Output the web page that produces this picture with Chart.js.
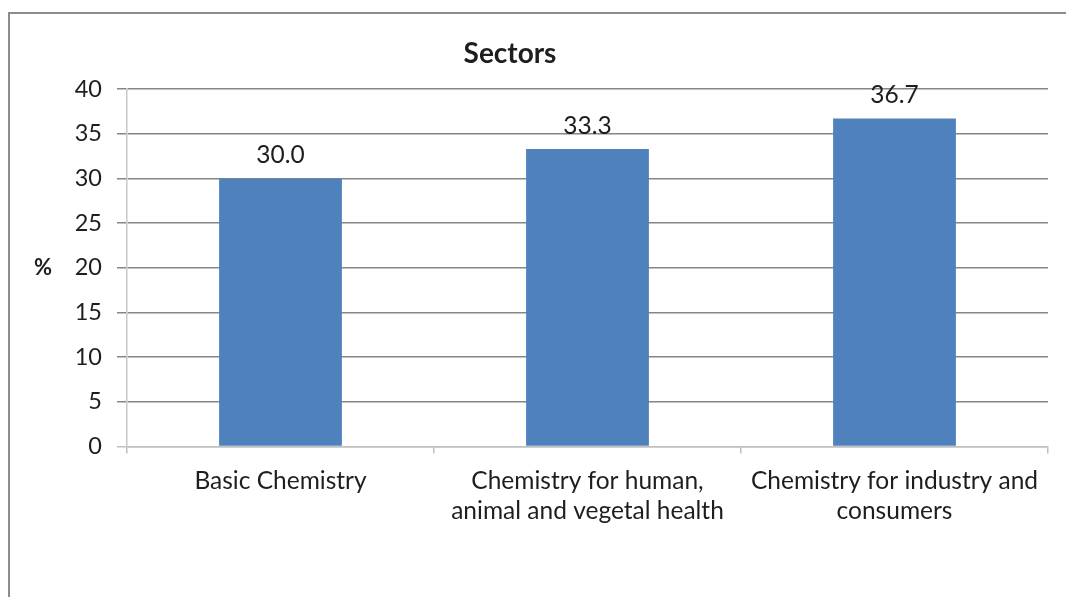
<!DOCTYPE html>
<html>
<head>
<meta charset="utf-8">
<script src="https://cdn.jsdelivr.net/npm/chart.js@4"></script>
<style>
  html, body { margin: 0; padding: 0; background: #fff; overflow: hidden; }
  #wrap { position: relative; width: 1066px; height: 597px; overflow: hidden; }
  #frame { position: absolute; left: 8px; top: 12px; width: 1200px; height: 1200px; border: 2px solid #8c8c8c; }
  #chart { position: absolute; left: 0; top: 0; }
</style>
</head>
<body>
<div id="wrap">
  <div id="frame"></div>
  <canvas id="chart" width="1066" height="597"></canvas>
</div>
<script>
// Sector shares, in percent
const categories = [
  'Basic Chemistry',
  ['Chemistry for human,', 'animal and vegetal health'],
  ['Chemistry for industry and', 'consumers']
];
const shares = [30.0, 33.3, 36.7];
const yTicks = [0, 5, 10, 15, 20, 25, 30, 35, 40];

const FONT = 'Lato, "Open Sans", sans-serif';
const TEXT = '#1e1e1e';

// Title, "%" label and value labels drawn by hand, like the Excel original
const decorations = {
  id: 'decorations',
  afterDatasetsDraw(chart) {
    const ctx = chart.ctx;
    ctx.save();
    ctx.fillStyle = TEXT;
    ctx.textAlign = 'center';

    ctx.font = 'bold 28px ' + FONT;
    ctx.textBaseline = 'alphabetic';
    ctx.fillText('Sectors', 510, 63);

    ctx.font = 'bold 22px ' + FONT;
    ctx.fillText('%', 43, 275);

    ctx.font = '24.5px ' + FONT;
    ctx.textBaseline = 'middle';
    const meta = chart.getDatasetMeta(0);
    meta.data.forEach((bar, i) => {
      ctx.fillText(shares[i].toFixed(1), bar.x, bar.y - 23);
    });
    ctx.restore();
  }
};

new Chart(document.getElementById('chart'), {
  type: 'bar',
  data: {
    labels: categories,
    datasets: [{
      data: shares,
      backgroundColor: '#4F81BD',
      borderWidth: 0,
      categoryPercentage: 1.0,
      barPercentage: 0.4
    }]
  },
  options: {
    responsive: false,
    animation: false,
    layout: { padding: { left: 0, right: 18, top: 89, bottom: 0 } },
    plugins: {
      legend: { display: false },
      title: { display: false },
      tooltip: { enabled: false }
    },
    scales: {
      x: {
        afterFit(scale) { scale.height = 150.5; },
        grid: {
          offset: true,
          drawOnChartArea: false,
          drawTicks: true,
          tickLength: 7,
          color: '#bfbfbf',
          lineWidth: 1.5
        },
        border: { color: '#bfbfbf', width: 1.5 },
        ticks: {
          color: TEXT,
          padding: 12,
          maxRotation: 0,
          autoSkip: false,
          font: { family: FONT, size: 24.5, lineHeight: 1.25 }
        }
      },
      y: {
        min: 0,
        max: 40,
        afterFit(scale) { scale.width = 127; },
        afterBuildTicks(scale) { scale.ticks = yTicks.map(v => ({ value: v })); },
        grid: {
          color: c => (c.tick && c.tick.value === 0) ? '#bfbfbf' : '#868686',
          lineWidth: 1.5,
          tickLength: 10
        },
        border: { color: '#c8c8c8', width: 1.5 },
        ticks: {
          color: TEXT,
          padding: 15,
          font: { family: FONT, size: 23.5 }
        }
      }
    }
  },
  plugins: [decorations]
});
</script>
</body>
</html>
